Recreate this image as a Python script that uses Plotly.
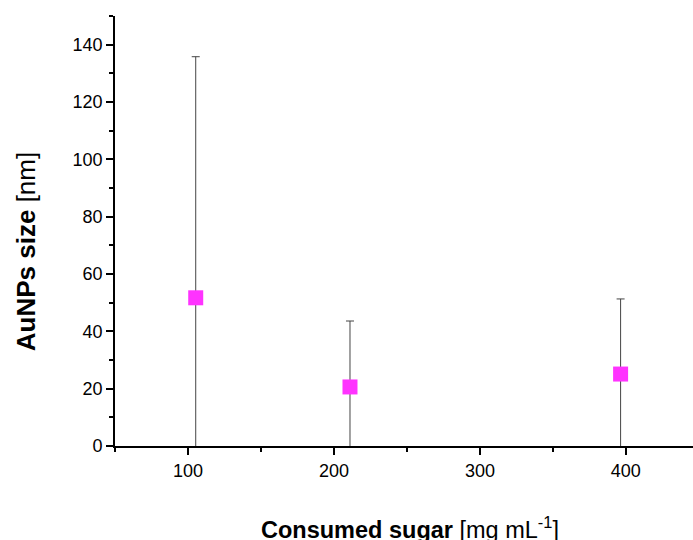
import plotly.graph_objects as go

sugar = [105.3, 211.0, 396.4]
size_nm = [51.7, 20.6, 25.1]
size_err = [84.1, 23.0, 26.2]

fig = go.Figure()
fig.add_trace(go.Scatter(
    x=sugar, y=size_nm, mode="markers",
    marker=dict(symbol="square", size=15, color="#FF33FF", line=dict(width=0)),
    error_y=dict(type="data", array=size_err, symmetric=True, color="#444444", thickness=1, width=4),
    showlegend=False, cliponaxis=True,
))

font_family = "Liberation Sans, Arial, sans-serif"
fig.update_layout(
    width=693, height=540,
    margin=dict(l=115, r=0, t=16, b=94, autoexpand=False),
    paper_bgcolor="white", plot_bgcolor="white",
    font=dict(family=font_family, size=18, color="black"),
    xaxis=dict(
        range=[50, 446], tickvals=[100, 200, 300, 400], automargin=False,
        ticks="outside", ticklen=7, tickwidth=1.5, tickcolor="black",
        showline=True, linecolor="black", linewidth=1.8,
        showgrid=False, zeroline=False,
        minor=dict(tickvals=[50, 150, 250, 350], ticks="outside", ticklen=4, tickwidth=1.5, tickcolor="black"),
        tickfont=dict(size=18, family=font_family),
    ),
    yaxis=dict(
        range=[0, 150], tickvals=[0, 20, 40, 60, 80, 100, 120, 140], automargin=False,
        ticks="outside", ticklen=7, tickwidth=1.5, tickcolor="black",
        showline=True, linecolor="black", linewidth=1.8,
        showgrid=False, zeroline=False,
        minor=dict(tickvals=[10, 30, 50, 70, 90, 110, 130, 150], ticks="outside", ticklen=4, tickwidth=1.5, tickcolor="black"),
        tickfont=dict(size=18, family=font_family),
    ),
    annotations=[
        dict(text="<b>Consumed sugar</b> [mg mL<sup>-1</sup>]", xref="paper", yref="paper",
             x=0.51, y=-0.19, xanchor="center", yanchor="middle", showarrow=False,
             font=dict(size=23.5, family=font_family)),
        dict(text="<b>AuNPs size</b> [nm]", xref="paper", yref="paper",
             x=-0.154, y=0.453, xanchor="center", yanchor="middle", showarrow=False,
             textangle=-90, font=dict(size=26, family=font_family)),
    ],
)
fig.write_html("out.html", config={"displayModeBar": False},
               post_script="document.body.style.margin='0';document.documentElement.style.overflow='hidden';")
